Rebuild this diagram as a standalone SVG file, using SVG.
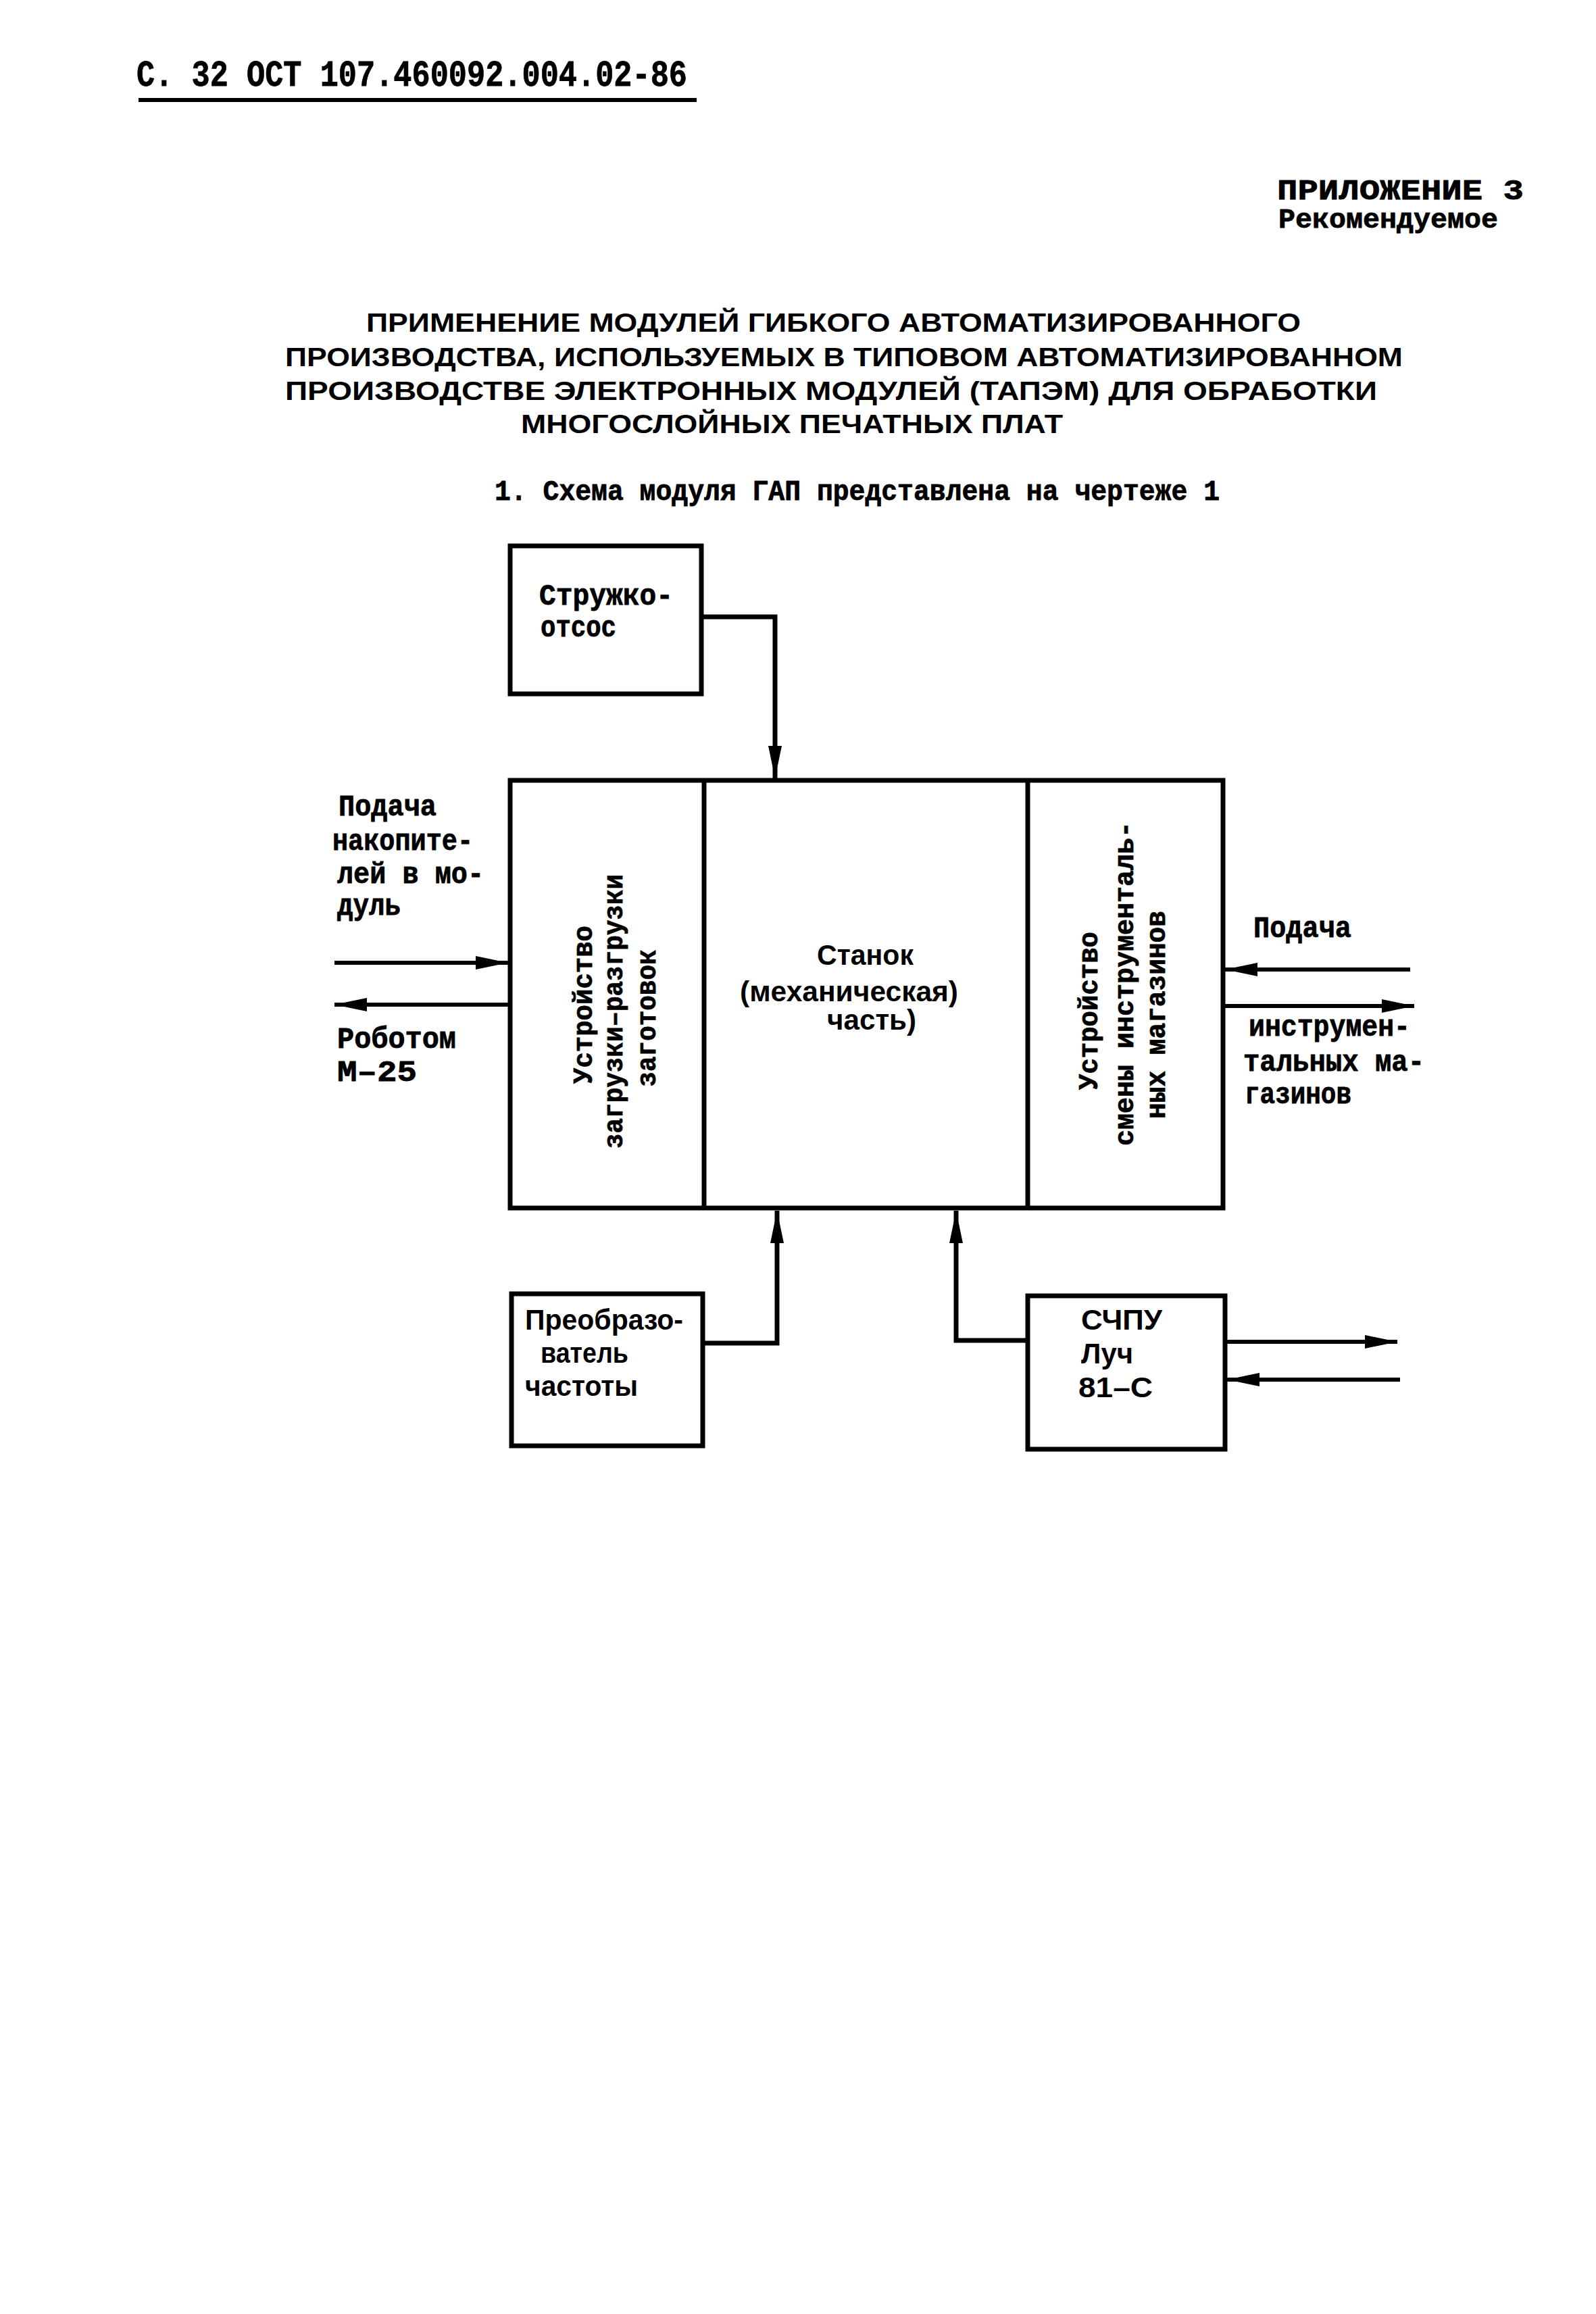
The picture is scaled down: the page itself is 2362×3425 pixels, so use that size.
<svg xmlns="http://www.w3.org/2000/svg" width="2362" height="3425" viewBox="0 0 2362 3425">
<style>
.bg{fill:#fff}
.box{fill:none;stroke:#000;stroke-width:7}
.ln{fill:none;stroke:#000;stroke-width:7}
.ar{fill:none;stroke:#000;stroke-width:6}
.mono{font-family:"Liberation Mono","DejaVu Sans Mono",monospace;font-weight:bold;fill:#000;stroke:#000;stroke-width:0.8}
.sans{font-family:"Liberation Sans","DejaVu Sans",sans-serif;font-weight:bold;fill:#000}
.m40{font-size:44px}
.m38{font-size:41px}
.s42{font-size:43px}
</style>
<defs>
<marker id="ah" markerUnits="userSpaceOnUse" markerWidth="50" markerHeight="24" viewBox="0 0 50 24" refX="48" refY="12" orient="auto">
<path d="M0,2 L48,12 L0,22 Z" fill="#000"/>
</marker>
</defs>
<rect class="bg" x="0" y="0" width="2362" height="3425"/>

<g id="header">
<text class="mono" x="202" y="127" font-size="54" textLength="815" lengthAdjust="spacingAndGlyphs">С. 32 ОСТ 107.460092.004.02-86</text>
<line x1="205" y1="148" x2="1031" y2="148" stroke="#000" stroke-width="6"/>
<text class="mono" x="1890" y="295" font-size="42" textLength="365" lengthAdjust="spacingAndGlyphs">ПРИЛОЖЕНИЕ 3</text>
<text class="mono" x="1892" y="337" font-size="40" textLength="325" lengthAdjust="spacingAndGlyphs">Рекомендуемое</text>
</g>

<g id="title">
<text class="sans" font-size="38" x="542" y="491" textLength="1383" lengthAdjust="spacingAndGlyphs">ПРИМЕНЕНИЕ МОДУЛЕЙ ГИБКОГО АВТОМАТИЗИРОВАННОГО</text>
<text class="sans" font-size="38" x="422" y="542" textLength="1654" lengthAdjust="spacingAndGlyphs">ПРОИЗВОДСТВА, ИСПОЛЬЗУЕМЫХ В ТИПОВОМ АВТОМАТИЗИРОВАННОМ</text>
<text class="sans" font-size="38" x="422" y="592" textLength="1616" lengthAdjust="spacingAndGlyphs">ПРОИЗВОДСТВЕ ЭЛЕКТРОННЫХ МОДУЛЕЙ (ТАПЭМ) ДЛЯ ОБРАБОТКИ</text>
<text class="sans" font-size="38" x="771" y="641" textLength="802" lengthAdjust="spacingAndGlyphs">МНОГОСЛОЙНЫХ ПЕЧАТНЫХ ПЛАТ</text>
<text class="mono" font-size="42" x="732" y="740" textLength="1073" lengthAdjust="spacingAndGlyphs">1. Схема модуля ГАП представлена на чертеже 1</text>
</g>

<g id="node-struzhko">
<rect class="box" x="755" y="808" width="283" height="219"/>
<text class="mono m40" x="798" y="895" textLength="198" lengthAdjust="spacingAndGlyphs">Стружко-</text>
<text class="mono m40" x="800" y="942" textLength="112" lengthAdjust="spacingAndGlyphs">отсос</text>
</g>

<g id="node-main">
<rect class="box" x="755" y="1155" width="1055" height="633"/>
</g>

<g id="node-zagruzka">
<line class="ln" x1="1042" y1="1155" x2="1042" y2="1788"/>
<text class="mono m38" transform="translate(876,1487) rotate(-90)" text-anchor="middle" textLength="234" lengthAdjust="spacingAndGlyphs">Устройство</text>
<text class="mono m38" transform="translate(921,1497) rotate(-90)" text-anchor="middle" textLength="406" lengthAdjust="spacingAndGlyphs">загрузки–разгрузки</text>
<text class="mono m38" transform="translate(970,1507) rotate(-90)" text-anchor="middle" textLength="203" lengthAdjust="spacingAndGlyphs">заготовок</text>
</g>

<g id="node-stanok">
<text class="sans s42" x="1209" y="1428" textLength="143" lengthAdjust="spacingAndGlyphs">Станок</text>
<text class="sans s42" x="1095" y="1482" textLength="323" lengthAdjust="spacingAndGlyphs">(механическая)</text>
<text class="sans s42" x="1224" y="1524" textLength="132" lengthAdjust="spacingAndGlyphs">часть)</text>
</g>

<g id="node-smena">
<line class="ln" x1="1521" y1="1155" x2="1521" y2="1788"/>
<text class="mono m38" transform="translate(1624,1496) rotate(-90)" text-anchor="middle" textLength="234" lengthAdjust="spacingAndGlyphs">Устройство</text>
<text class="mono m38" transform="translate(1677,1456) rotate(-90)" text-anchor="middle" textLength="480" lengthAdjust="spacingAndGlyphs">смены инструменталь-</text>
<text class="mono m38" transform="translate(1724,1502) rotate(-90)" text-anchor="middle" textLength="308" lengthAdjust="spacingAndGlyphs">ных магазинов</text>
</g>

<g id="node-preobr">
<rect class="box" x="757" y="1915" width="283" height="225"/>
<text class="sans s42" x="777" y="1968" textLength="234" lengthAdjust="spacingAndGlyphs">Преобразо-</text>
<text class="sans s42" x="800" y="2017" textLength="130" lengthAdjust="spacingAndGlyphs">ватель</text>
<text class="sans s42" x="777" y="2066" textLength="167" lengthAdjust="spacingAndGlyphs">частоты</text>
</g>

<g id="node-chpu">
<rect class="box" x="1521" y="1918" width="292" height="227"/>
<text class="sans s42" x="1600" y="1968" textLength="120" lengthAdjust="spacingAndGlyphs">СЧПУ</text>
<text class="sans s42" x="1600" y="2018" textLength="77" lengthAdjust="spacingAndGlyphs">Луч</text>
<text class="sans s42" x="1596" y="2068" textLength="110" lengthAdjust="spacingAndGlyphs">81–С</text>
</g>

<g id="labels">
<text class="mono m40" x="501" y="1207" textLength="145" lengthAdjust="spacingAndGlyphs">Подача</text>
<text class="mono m40" x="492" y="1258" textLength="208" lengthAdjust="spacingAndGlyphs">накопите-</text>
<text class="mono m40" x="499" y="1307" textLength="217" lengthAdjust="spacingAndGlyphs">лей в мо-</text>
<text class="mono m40" x="499" y="1354" textLength="94" lengthAdjust="spacingAndGlyphs">дуль</text>
<text class="mono m40" x="499" y="1551" textLength="176" lengthAdjust="spacingAndGlyphs">Роботом</text>
<text class="mono m40" x="499" y="1600" textLength="118" lengthAdjust="spacingAndGlyphs">М–25</text>
<text class="mono m40" x="1855" y="1387" textLength="145" lengthAdjust="spacingAndGlyphs">Подача</text>
<text class="mono m40" x="1848" y="1533" textLength="239" lengthAdjust="spacingAndGlyphs">инструмен-</text>
<text class="mono m40" x="1840" y="1585" textLength="268" lengthAdjust="spacingAndGlyphs">тальных ма-</text>
<text class="mono m40" x="1842" y="1633" textLength="158" lengthAdjust="spacingAndGlyphs">газинов</text>
</g>

<g id="connectors">
<path class="ln" d="M1038,913 H1147 V1152" marker-end="url(#ah)"/>
<path class="ln" d="M1040,1988 H1150 V1792" marker-end="url(#ah)"/>
<path class="ln" d="M1521,1984 H1415 V1792" marker-end="url(#ah)"/>
<path class="ar" d="M495,1425 H752" marker-end="url(#ah)"/>
<path class="ar" d="M755,1487 H495" marker-end="url(#ah)"/>
<path class="ar" d="M2087,1435 H1813" marker-end="url(#ah)"/>
<path class="ar" d="M1810,1489 H2093" marker-end="url(#ah)"/>
<path class="ar" d="M1813,1986 H2068" marker-end="url(#ah)"/>
<path class="ar" d="M2072,2042 H1816" marker-end="url(#ah)"/>
</g>
</svg>
